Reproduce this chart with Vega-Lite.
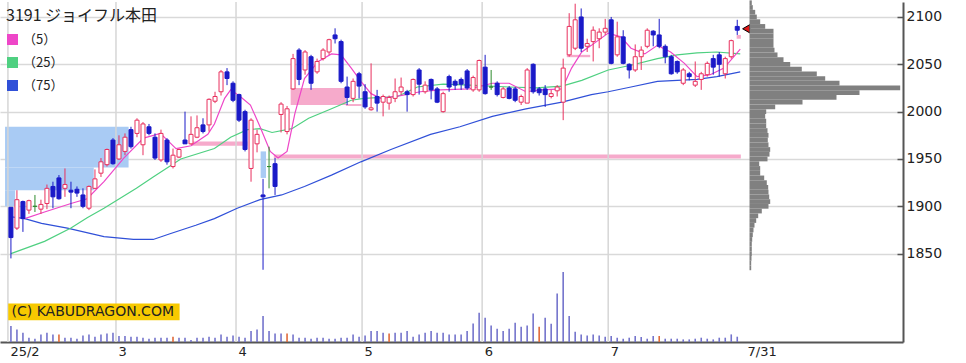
{
"$schema": "https://vega.github.io/schema/vega-lite/v6.json",
"width": 903, "height": 340, "padding": 0, "background": "white",
"config": {"view": {"stroke": null}, "font": "DejaVu Sans"},
"datasets": {
"candles": [
{"i":0,"o":1899,"h":1899,"l":1845,"c":1867,"vol":160},
{"i":1,"o":1877,"h":1917,"l":1875,"c":1907,"vol":126},
{"i":2,"o":1905,"h":1906,"l":1873,"c":1887,"vol":93},
{"i":3,"o":1896,"h":1907,"l":1892,"c":1906,"vol":43},
{"i":4,"o":1900,"h":1912,"l":1894,"c":1900,"vol":33},
{"i":5,"o":1897,"h":1907,"l":1892,"c":1902,"vol":76},
{"i":6,"o":1903,"h":1923,"l":1897,"c":1919,"vol":93},
{"i":7,"o":1921,"h":1926,"l":1898,"c":1910,"vol":76},
{"i":8,"o":1930,"h":1933,"l":1907,"c":1908,"vol":76,"r":1},
{"i":9,"o":1919,"h":1940,"l":1910,"c":1923,"vol":43},
{"i":10,"o":1917,"h":1926,"l":1898,"c":1915,"vol":43},
{"i":11,"o":1918,"h":1921,"l":1910,"c":1914,"vol":33},
{"i":12,"o":1912,"h":1919,"l":1898,"c":1900,"vol":66},
{"i":13,"o":1898,"h":1922,"l":1896,"c":1921,"vol":76},
{"i":14,"o":1919,"h":1939,"l":1918,"c":1929,"vol":53},
{"i":15,"o":1935,"h":1951,"l":1931,"c":1947,"vol":76},
{"i":16,"o":1944,"h":1961,"l":1942,"c":1960,"vol":86},
{"i":17,"o":1970,"h":1972,"l":1944,"c":1945,"vol":93},
{"i":18,"o":1950,"h":1975,"l":1949,"c":1965,"vol":60},
{"i":19,"o":1958,"h":1977,"l":1954,"c":1973,"vol":60},
{"i":20,"o":1981,"h":1984,"l":1961,"c":1963,"vol":53},
{"i":21,"o":1977,"h":1993,"l":1973,"c":1991,"vol":53},
{"i":22,"o":1965,"h":1989,"l":1954,"c":1987,"vol":43},
{"i":23,"o":1984,"h":1987,"l":1975,"c":1977,"vol":33},
{"i":24,"o":1973,"h":1977,"l":1949,"c":1951,"vol":43},
{"i":25,"o":1949,"h":1981,"l":1947,"c":1977,"vol":43},
{"i":26,"o":1970,"h":1972,"l":1944,"c":1947,"vol":43},
{"i":27,"o":1942,"h":1961,"l":1940,"c":1954,"vol":53,"r":1},
{"i":28,"o":1952,"h":1961,"l":1951,"c":1960,"vol":43},
{"i":29,"o":1970,"h":2000,"l":1966,"c":1966,"vol":43},
{"i":30,"o":1966,"h":1995,"l":1965,"c":1976,"vol":20},
{"i":31,"o":1973,"h":1996,"l":1972,"c":1983,"vol":43},
{"i":32,"o":1986,"h":1993,"l":1977,"c":1979,"vol":43},
{"i":33,"o":1986,"h":2014,"l":1979,"c":2013,"vol":53},
{"i":34,"o":2011,"h":2021,"l":2009,"c":2016,"vol":43},
{"i":35,"o":2021,"h":2044,"l":2017,"c":2042,"vol":76},
{"i":36,"o":2042,"h":2046,"l":2028,"c":2035,"vol":53},
{"i":37,"o":2030,"h":2032,"l":2010,"c":2012,"vol":66},
{"i":38,"o":2018,"h":2019,"l":1989,"c":1991,"vol":53},
{"i":39,"o":2000,"h":2002,"l":1958,"c":1960,"vol":43},
{"i":40,"o":1940,"h":1993,"l":1926,"c":1991,"vol":110},
{"i":41,"o":1966,"h":1981,"l":1957,"c":1976,"vol":126},
{"i":42,"o":1912,"h":1929,"l":1833,"c":1910,"vol":260},
{"i":43,"o":1942,"h":1963,"l":1919,"c":1942,"vol":110},
{"i":44,"o":1945,"h":1951,"l":1912,"c":1921,"vol":86},
{"i":45,"o":1997,"h":2010,"l":1978,"c":2008,"vol":86},
{"i":46,"o":1979,"h":2006,"l":1976,"c":2003,"vol":86,"r":1},
{"i":47,"o":2024,"h":2061,"l":2023,"c":2056,"vol":76},
{"i":48,"o":2065,"h":2067,"l":2028,"c":2034,"vol":43},
{"i":49,"o":2044,"h":2065,"l":2039,"c":2063,"vol":43},
{"i":50,"o":2058,"h":2060,"l":2023,"c":2030,"vol":33},
{"i":51,"o":2042,"h":2056,"l":2040,"c":2053,"vol":43},
{"i":52,"o":2056,"h":2067,"l":2054,"c":2065,"vol":43},
{"i":53,"o":2063,"h":2077,"l":2060,"c":2076,"vol":33},
{"i":54,"o":2081,"h":2088,"l":2072,"c":2077,"vol":33},
{"i":55,"o":2074,"h":2076,"l":2030,"c":2032,"vol":43},
{"i":56,"o":2026,"h":2037,"l":2007,"c":2015,"vol":43},
{"i":57,"o":2014,"h":2035,"l":2010,"c":2032,"vol":76},
{"i":58,"o":2040,"h":2042,"l":2014,"c":2027,"vol":53},
{"i":59,"o":2021,"h":2029,"l":2003,"c":2005,"vol":66},
{"i":60,"o":2002,"h":2051,"l":2001,"c":2004,"vol":110},
{"i":61,"o":2016,"h":2023,"l":2000,"c":2009,"vol":110},
{"i":62,"o":2010,"h":2018,"l":1995,"c":2016,"vol":93},
{"i":63,"o":2009,"h":2017,"l":2002,"c":2015,"vol":86,"r":1},
{"i":64,"o":2014,"h":2035,"l":2010,"c":2021,"vol":93},
{"i":65,"o":2021,"h":2036,"l":2018,"c":2026,"vol":93},
{"i":66,"o":2021,"h":2023,"l":2000,"c":2018,"vol":110},
{"i":67,"o":2018,"h":2035,"l":2016,"c":2034,"vol":53},
{"i":68,"o":2044,"h":2046,"l":2018,"c":2029,"vol":76},
{"i":69,"o":2021,"h":2032,"l":2019,"c":2028,"vol":93},
{"i":70,"o":2034,"h":2035,"l":2013,"c":2023,"vol":110},
{"i":71,"o":2024,"h":2026,"l":2009,"c":2010,"vol":93},
{"i":72,"o":2000,"h":2021,"l":1999,"c":2019,"vol":93},
{"i":73,"o":2037,"h":2039,"l":2021,"c":2026,"vol":76},
{"i":74,"o":2032,"h":2034,"l":2023,"c":2028,"vol":76},
{"i":75,"o":2034,"h":2036,"l":2023,"c":2029,"vol":76},
{"i":76,"o":2043,"h":2045,"l":2023,"c":2025,"vol":110},
{"i":77,"o":2023,"h":2038,"l":2021,"c":2036,"vol":186},
{"i":78,"o":2023,"h":2055,"l":2021,"c":2054,"vol":293},
{"i":79,"o":2047,"h":2060,"l":2018,"c":2019,"vol":243},
{"i":80,"o":2026,"h":2044,"l":2023,"c":2026,"vol":166},
{"i":81,"o":2030,"h":2032,"l":2016,"c":2018,"vol":133},
{"i":82,"o":2015,"h":2026,"l":2014,"c":2024,"vol":110},
{"i":83,"o":2025,"h":2027,"l":2013,"c":2014,"vol":133},
{"i":84,"o":2024,"h":2026,"l":2010,"c":2012,"vol":193},
{"i":85,"o":2010,"h":2018,"l":2007,"c":2016,"vol":153},
{"i":86,"o":2009,"h":2046,"l":2009,"c":2044,"vol":166},
{"i":87,"o":2050,"h":2051,"l":2019,"c":2021,"vol":286},
{"i":88,"o":2024,"h":2026,"l":2017,"c":2020,"vol":153,"r":1},
{"i":89,"o":2024,"h":2028,"l":2005,"c":2018,"vol":243},
{"i":90,"o":2016,"h":2023,"l":2014,"c":2019,"vol":183},
{"i":91,"o":2022,"h":2028,"l":2016,"c":2026,"vol":486},
{"i":92,"o":2010,"h":2056,"l":1991,"c":2046,"vol":700},
{"i":93,"o":2060,"h":2104,"l":2058,"c":2090,"vol":260},
{"i":94,"o":2067,"h":2114,"l":2065,"c":2097,"vol":103},
{"i":95,"o":2100,"h":2109,"l":2063,"c":2067,"vol":76},
{"i":96,"o":2069,"h":2077,"l":2063,"c":2072,"vol":66},
{"i":97,"o":2074,"h":2090,"l":2053,"c":2086,"vol":76},
{"i":98,"o":2077,"h":2088,"l":2067,"c":2084,"vol":66},
{"i":99,"o":2084,"h":2098,"l":2081,"c":2088,"vol":53},
{"i":100,"o":2097,"h":2100,"l":2050,"c":2051,"vol":60},
{"i":101,"o":2060,"h":2095,"l":2058,"c":2079,"vol":43},
{"i":102,"o":2079,"h":2086,"l":2050,"c":2051,"vol":33},
{"i":103,"o":2050,"h":2051,"l":2035,"c":2044,"vol":43},
{"i":104,"o":2044,"h":2071,"l":2042,"c":2058,"vol":60},
{"i":105,"o":2058,"h":2069,"l":2044,"c":2065,"vol":50},
{"i":106,"o":2069,"h":2088,"l":2067,"c":2086,"vol":33},
{"i":107,"o":2085,"h":2086,"l":2069,"c":2081,"vol":60},
{"i":108,"o":2081,"h":2098,"l":2067,"c":2069,"vol":60,"r":1},
{"i":109,"o":2069,"h":2071,"l":2051,"c":2058,"vol":33},
{"i":110,"o":2058,"h":2060,"l":2039,"c":2040,"vol":33},
{"i":111,"o":2053,"h":2054,"l":2040,"c":2042,"vol":33},
{"i":112,"o":2030,"h":2046,"l":2028,"c":2044,"vol":26},
{"i":113,"o":2040,"h":2042,"l":2033,"c":2037,"vol":26},
{"i":114,"o":2028,"h":2053,"l":2026,"c":2032,"vol":33},
{"i":115,"o":2034,"h":2042,"l":2023,"c":2040,"vol":43},
{"i":116,"o":2039,"h":2053,"l":2037,"c":2051,"vol":33},
{"i":117,"o":2056,"h":2060,"l":2039,"c":2047,"vol":26},
{"i":118,"o":2060,"h":2063,"l":2037,"c":2050,"vol":43},
{"i":119,"o":2040,"h":2058,"l":2035,"c":2056,"vol":43},
{"i":120,"o":2058,"h":2076,"l":2056,"c":2075,"vol":76},
{"i":121,"o":2090,"h":2097,"l":2081,"c":2086,"vol":53}
],
"ma": [
{"s":"（75）","i":0,"v":1889},{"s":"（75）","i":2.3,"v":1887},{"s":"（75）","i":5.1,"v":1882},{"s":"（75）","i":9.4,"v":1877},{"s":"（75）","i":15.5,"v":1868},{"s":"（75）","i":20.4,"v":1865},{"s":"（75）","i":23.7,"v":1865},{"s":"（75）","i":26.5,"v":1871},{"s":"（75）","i":30.8,"v":1880},{"s":"（75）","i":33.9,"v":1887},{"s":"（75）","i":37.7,"v":1898},{"s":"（75）","i":41.5,"v":1907},{"s":"（75）","i":45.1,"v":1912},{"s":"（75）","i":48.9,"v":1921},{"s":"（75）","i":53.4,"v":1933},{"s":"（75）","i":58.3,"v":1947},{"s":"（75）","i":63.3,"v":1960},{"s":"（75）","i":69.9,"v":1976},{"s":"（75）","i":74.8,"v":1984},{"s":"（75）","i":80.2,"v":1995},{"s":"（75）","i":85.8,"v":2003},{"s":"（75）","i":91.8,"v":2010},{"s":"（75）","i":96.7,"v":2018},{"s":"（75）","i":99.5,"v":2021},{"s":"（75）","i":103.3,"v":2026},{"s":"（75）","i":107.7,"v":2032},{"s":"（75）","i":114.3,"v":2034},{"s":"（75）","i":117.6,"v":2037},{"s":"（75）","i":121.5,"v":2042},
{"s":"（25）","i":0,"v":1850},{"s":"（25）","i":5.6,"v":1863},{"s":"（25）","i":10,"v":1877},{"s":"（25）","i":12.7,"v":1888},{"s":"（25）","i":15.5,"v":1898},{"s":"（25）","i":20.9,"v":1919},{"s":"（25）","i":23.7,"v":1931},{"s":"（25）","i":28.3,"v":1950},{"s":"（25）","i":33.9,"v":1961},{"s":"（25）","i":36.6,"v":1973},{"s":"（25）","i":39.4,"v":1981},{"s":"（25）","i":41.5,"v":1982},{"s":"（25）","i":43.5,"v":1978},{"s":"（25）","i":46.8,"v":1982},{"s":"（25）","i":49.6,"v":1993},{"s":"（25）","i":53.4,"v":2003},{"s":"（25）","i":56.7,"v":2012},{"s":"（25）","i":58.8,"v":2014},{"s":"（25）","i":64.4,"v":2016},{"s":"（25）","i":67.7,"v":2026},{"s":"（25）","i":72,"v":2029},{"s":"（25）","i":76.4,"v":2028},{"s":"（25）","i":83,"v":2026},{"s":"（25）","i":87.5,"v":2025},{"s":"（25）","i":91.8,"v":2027},{"s":"（25）","i":95.1,"v":2033},{"s":"（25）","i":99.5,"v":2044},{"s":"（25）","i":103.3,"v":2049},{"s":"（25）","i":107.7,"v":2056},{"s":"（25）","i":111,"v":2060},{"s":"（25）","i":114.3,"v":2062},{"s":"（25）","i":117.6,"v":2063},{"s":"（25）","i":121.5,"v":2061},
{"s":"（5）","i":2.3,"v":1887},{"s":"（5）","i":5.6,"v":1894},{"s":"（5）","i":10,"v":1903},{"s":"（5）","i":12.7,"v":1908},{"s":"（5）","i":15.5,"v":1926},{"s":"（5）","i":18.8,"v":1951},{"s":"（5）","i":22.1,"v":1972},{"s":"（5）","i":24.9,"v":1977},{"s":"（5）","i":27.5,"v":1961},{"s":"（5）","i":30,"v":1964},{"s":"（5）","i":32.8,"v":1976},{"s":"（5）","i":33.9,"v":1987},{"s":"（5）","i":35.6,"v":2014},{"s":"（5）","i":36.6,"v":2023},{"s":"（5）","i":38.2,"v":2016},{"s":"（5）","i":39.9,"v":2007},{"s":"（5）","i":41.5,"v":1984},{"s":"（5）","i":43.2,"v":1958},{"s":"（5）","i":44.5,"v":1951},{"s":"（5）","i":46,"v":1958},{"s":"（5）","i":47.3,"v":1998},{"s":"（5）","i":48.9,"v":2035},{"s":"（5）","i":51.2,"v":2053},{"s":"（5）","i":53.4,"v":2061},{"s":"（5）","i":55,"v":2060},{"s":"（5）","i":56.7,"v":2046},{"s":"（5）","i":58.3,"v":2032},{"s":"（5）","i":60,"v":2019},{"s":"（5）","i":61.6,"v":2014},{"s":"（5）","i":64.9,"v":2017},{"s":"（5）","i":68.2,"v":2021},{"s":"（5）","i":71.5,"v":2023},{"s":"（5）","i":76.4,"v":2024},{"s":"（5）","i":80.2,"v":2030},{"s":"（5）","i":83,"v":2030},{"s":"（5）","i":85.8,"v":2021},{"s":"（5）","i":88.5,"v":2023},{"s":"（5）","i":91.8,"v":2024},{"s":"（5）","i":93.4,"v":2046},{"s":"（5）","i":95.1,"v":2063},{"s":"（5）","i":96.7,"v":2070},{"s":"（5）","i":99.5,"v":2083},{"s":"（5）","i":101.6,"v":2079},{"s":"（5）","i":103.3,"v":2067},{"s":"（5）","i":105.6,"v":2061},{"s":"（5）","i":107.7,"v":2070},{"s":"（5）","i":109.9,"v":2063},{"s":"（5）","i":112.2,"v":2051},{"s":"（5）","i":114.3,"v":2037},{"s":"（5）","i":116.5,"v":2039},{"s":"（5）","i":118.8,"v":2046},{"s":"（5）","i":121.5,"v":2066}
],
"zones": [
{"t":"b","i1":-0.98,"i2":19.6,"p1":1941,"p2":1984},
{"t":"b","i1":-0.98,"i2":13.8,"p1":1917,"p2":1941},
{"t":"b","i1":-0.98,"i2":0.7,"p1":1900,"p2":1917},
{"t":"b","i1":41.6,"i2":42.5,"p1":1930,"p2":1958},
{"t":"p","i1":46.6,"i2":55.8,"p1":2007,"p2":2025},
{"t":"p","i1":55.8,"i2":58.6,"p1":2006,"p2":2008},
{"t":"p","i1":30,"i2":39.4,"p1":1964,"p2":1968.5},
{"t":"p","i1":43.8,"i2":121.6,"p1":1950.5,"p2":1954.7},
{"t":"p","i1":92.6,"i2":96.5,"p1":2057.5,"p2":2060},
{"t":"p","i1":120.9,"i2":121.6,"p1":2077,"p2":2081}
],
"months": [{"i":-0.5},{"i":17.5},{"i":37.5},{"i":58.5},{"i":78.5},{"i":99.5}],
"wm": [{"i1":-0.45,"i2":28.1,"p1":1779.8,"p2":1797.3,"ti":0.1,"tp":1788.6,"t":"(C) KABUDRAGON.COM"}],
"last": [{"i":122.5,"p":2087.5}],
"prof": [
{"lo":2112.5,"hi":2117.5,"v":2.3},{"lo":2107.5,"hi":2112.5,"v":3.3},{"lo":2102.5,"hi":2107.5,"v":5.7},{"lo":2097.5,"hi":2102.5,"v":7.3},{"lo":2092.5,"hi":2097.5,"v":10.7},{"lo":2087.5,"hi":2092.5,"v":15.7},{"lo":2082.5,"hi":2087.5,"v":24},{"lo":2077.5,"hi":2082.5,"v":24},{"lo":2072.5,"hi":2077.5,"v":24},{"lo":2067.5,"hi":2072.5,"v":24},{"lo":2062.5,"hi":2067.5,"v":25},{"lo":2057.5,"hi":2062.5,"v":28},{"lo":2052.5,"hi":2057.5,"v":34},{"lo":2047.5,"hi":2052.5,"v":40.7},{"lo":2042.5,"hi":2047.5,"v":52.3},{"lo":2037.5,"hi":2042.5,"v":67.3},{"lo":2032.5,"hi":2037.5,"v":75.7},{"lo":2027.5,"hi":2032.5,"v":90},{"lo":2022.5,"hi":2027.5,"v":150.7},{"lo":2017.5,"hi":2022.5,"v":110},{"lo":2012.5,"hi":2017.5,"v":87},{"lo":2007.5,"hi":2012.5,"v":53},{"lo":2002.5,"hi":2007.5,"v":25.7},{"lo":1997.5,"hi":2002.5,"v":16.7},{"lo":1992.5,"hi":1997.5,"v":15.7},{"lo":1987.5,"hi":1992.5,"v":16.7},{"lo":1982.5,"hi":1987.5,"v":16.7},{"lo":1977.5,"hi":1982.5,"v":18},{"lo":1972.5,"hi":1977.5,"v":19},{"lo":1967.5,"hi":1972.5,"v":18.3},{"lo":1962.5,"hi":1967.5,"v":19},{"lo":1957.5,"hi":1962.5,"v":20.7},{"lo":1952.5,"hi":1957.5,"v":20},{"lo":1947.5,"hi":1952.5,"v":18},{"lo":1942.5,"hi":1947.5,"v":9.7},{"lo":1937.5,"hi":1942.5,"v":10.7},{"lo":1932.5,"hi":1937.5,"v":10.7},{"lo":1927.5,"hi":1932.5,"v":14.7},{"lo":1922.5,"hi":1927.5,"v":17.3},{"lo":1917.5,"hi":1922.5,"v":18.7},{"lo":1912.5,"hi":1917.5,"v":19},{"lo":1907.5,"hi":1912.5,"v":19.7},{"lo":1902.5,"hi":1907.5,"v":20.7},{"lo":1897.5,"hi":1902.5,"v":19},{"lo":1892.5,"hi":1897.5,"v":12.3},{"lo":1887.5,"hi":1892.5,"v":8.7},{"lo":1882.5,"hi":1887.5,"v":6.7},{"lo":1877.5,"hi":1882.5,"v":5},{"lo":1872.5,"hi":1877.5,"v":4},{"lo":1867.5,"hi":1872.5,"v":3.3},{"lo":1862.5,"hi":1867.5,"v":2.7},{"lo":1857.5,"hi":1862.5,"v":2.3},{"lo":1852.5,"hi":1857.5,"v":2.3},{"lo":1847.5,"hi":1852.5,"v":2.3},{"lo":1842.5,"hi":1847.5,"v":2},{"lo":1837.5,"hi":1842.5,"v":1.7},{"lo":1832.5,"hi":1837.5,"v":1.7}
]
},
"layer": [
{
"layer": [
{"data": {"name": "zones"}, "mark": {"type": "rect"},
 "encoding": {
  "x": {"field": "i1", "type": "quantitative", "scale": {"domain": [-0.988, 147.78], "nice": false, "zero": false},
   "axis": {"title": null, "values": [-0.5,17.5,37.5,58.5,78.5,99.5,122.3], "labelExpr": "datum.value < 0 ? '25/2' : datum.value < 20 ? '3' : datum.value < 40 ? '4' : datum.value < 60 ? '5' : datum.value < 80 ? '6' : datum.value < 110 ? '7' : '7/31'", "grid": false, "ticks": false, "domain": true, "domainColor": "#555555", "domainWidth": 2, "labelAlign": "left", "labelBaseline": "top", "labelPadding": 3, "labelOffset": 2, "labelFontSize": 13, "labelColor": "#222222", "labelFlush": false, "labelOverlap": false, "labelBound": false}},
  "x2": {"field": "i2"},
  "y": {"field": "p1", "type": "quantitative", "scale": {"domain": [1756.7, 2115.8], "nice": false, "zero": false},
   "axis": {"orient": "right", "title": null, "values": [1850,1900,1950,2000,2050,2100], "format": "d", "grid": true, "gridColor": "#d9d9d9", "gridWidth": 1.5, "domainColor": "#555555", "domainWidth": 2, "tickColor": "#555555", "tickSize": -6, "tickWidth": 1.5, "labelPadding": 9, "labelFontSize": 14, "labelColor": "#222222"}},
  "y2": {"field": "p2"},
  "fill": {"condition": {"test": "datum.t == 'b'", "value": "#a9cbf4"}, "value": "#f6aacb"}
 }},
{"data": {"name": "months"}, "mark": {"type": "rule", "color": "#d6d6d6", "strokeWidth": 1.5},
 "encoding": {"x": {"field": "i", "type": "quantitative", "scale": {"domain": [-0.988, 147.78], "nice": false, "zero": false}, "axis": {"title": null}}}},
{"data": {"name": "wm"}, "mark": {"type": "rect", "color": "#f7c900"},
 "encoding": {"x": {"field": "i1", "type": "quantitative", "axis": {"title": null}}, "x2": {"field": "i2"}, "y": {"field": "p1", "type": "quantitative", "axis": {"title": null}}, "y2": {"field": "p2"}}},
{"data": {"name": "wm"}, "mark": {"type": "text", "align": "left", "baseline": "middle", "fontSize": 14, "font": "DejaVu Sans", "color": "#222222"},
 "encoding": {"x": {"field": "ti", "type": "quantitative", "axis": {"title": null}}, "y": {"field": "tp", "type": "quantitative", "axis": {"title": null}}, "text": {"field": "t"}}},
{"data": {"name": "ma"}, "mark": {"type": "line", "strokeWidth": 1.2},
 "encoding": {
  "x": {"field": "i", "type": "quantitative", "axis": {"title": null}},
  "y": {"field": "v", "type": "quantitative", "axis": {"title": null}},
  "strokeWidth": {"condition": {"test": "datum.s == '（75）'", "value": 1.8}, "value": 1.1},
  "color": {"field": "s", "type": "nominal", "sort": ["（5）","（25）","（75）"],
   "scale": {"domain": ["（5）","（25）","（75）"], "range": ["#ee46c8", "#4fd081", "#3050d8"]},
   "legend": {"title": "3191 ジョイフル本田", "orient": "none", "legendX": 6, "legendY": 6, "padding": 0,
    "titleFont": "Noto Sans CJK JP", "titleFontSize": 16, "titleFontWeight": "normal", "titleColor": "#222222", "titleBaseline": "top", "titlePadding": 9, "titleLimit": 400,
    "labelFont": "Noto Sans CJK JP", "labelFontSize": 13, "labelColor": "#222222", "labelOffset": 4,
    "symbolType": "square", "symbolSize": 25, "symbolStrokeWidth": 6, "symbolOpacity": 1, "rowPadding": -6}}
 }},
{"data": {"name": "candles"}, "mark": {"type": "rule", "strokeWidth": 1},
 "encoding": {
  "x": {"field": "i", "type": "quantitative", "axis": {"title": null}},
  "y": {"field": "l", "type": "quantitative", "axis": {"title": null}},
  "y2": {"field": "h"},
  "stroke": {"condition": [{"test": "datum.c > datum.o", "value": "#e8305e"}, {"test": "datum.c < datum.o", "value": "#1a1ac8"}], "value": "#2e8b2e"}
 }},
{"data": {"name": "candles"}, "mark": {"type": "bar", "size": 4, "strokeWidth": 1},
 "encoding": {
  "x": {"field": "i", "type": "quantitative", "axis": {"title": null}},
  "y": {"field": "o", "type": "quantitative", "axis": {"title": null}},
  "y2": {"field": "c"},
  "fill": {"condition": [{"test": "datum.c > datum.o", "value": "#ffffff"}, {"test": "datum.c < datum.o", "value": "#1a1ac8"}], "value": "#2e8b2e"},
  "stroke": {"condition": [{"test": "datum.c > datum.o", "value": "#e8305e"}, {"test": "datum.c < datum.o", "value": "#1a1ac8"}], "value": "#2e8b2e"}
 }},
{"data": {"name": "last"}, "mark": {"type": "point", "shape": "triangle-left", "size": 70, "filled": true, "fill": "#e01818", "stroke": "#000000", "strokeWidth": 1, "opacity": 1},
 "encoding": {"x": {"field": "i", "type": "quantitative", "axis": {"title": null}}, "y": {"field": "p", "type": "quantitative", "axis": {"title": null}}}}
]
},
{"data": {"name": "candles"}, "mark": {"type": "bar", "size": 1.6},
 "encoding": {
  "x": {"field": "i", "type": "quantitative", "scale": {"domain": [-0.988, 147.78], "nice": false, "zero": false}, "axis": null},
  "y": {"field": "vol", "type": "quantitative", "scale": {"domain": [0, 3400], "nice": false}, "axis": null},
  "fill": {"condition": {"test": "datum.r == 1", "value": "#e06a3a"}, "value": "#7474cc"}
 }},
{"data": {"name": "prof"}, "mark": {"type": "rect", "color": "#808080"},
 "encoding": {
  "x": {"field": "v", "type": "quantitative", "scale": {"domain": [-749.5, 153.5], "nice": false, "zero": false}, "axis": null},
  "x2": {"datum": 0},
  "y": {"field": "lo", "type": "quantitative", "scale": {"domain": [1756.7, 2115.8], "nice": false, "zero": false}, "axis": null},
  "y2": {"field": "hi"}
 }}
],
"resolve": {"scale": {"x": "independent", "y": "independent"}}
}
